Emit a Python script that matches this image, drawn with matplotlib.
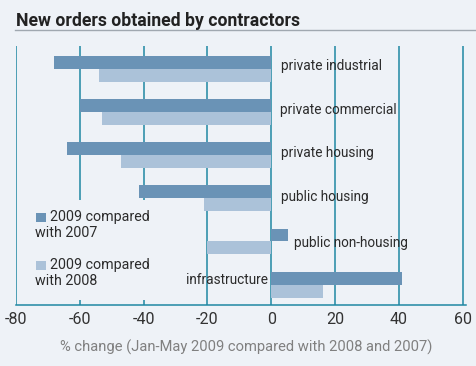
import matplotlib
matplotlib.use("Agg")
import matplotlib.pyplot as plt
from matplotlib.patches import Rectangle
import numpy as np

categories = ["private industrial", "private commercial", "private housing",
              "public housing", "public non-housing", "infrastructure"]
vs2007 = [-68, -60, -64, -41.5, 5.3, 41]
vs2008 = [-54, -53, -47, -21, -20.3, 16.3]
series_first = ["2009 compared", "2009 compared"]
series_second = ["with 2007", "with 2008"]
xticks = [-80, -60, -40, -20, 0, 20, 40, 60]
title = "New orders obtained by contractors"
xlabel = "% change (Jan-May 2009 compared with 2008 and 2007)"

bg = "#eef2f7"
dark = "#6a93b6"
light = "#abc2d9"
grid = "#1f88a3"
txt = "#2b2b2b"

plt.rcParams['font.family'] = ['Roboto', 'DejaVu Sans']

fig = plt.figure(figsize=(4.77, 3.66), dpi=100, facecolor=bg)
ax = fig.add_axes([16/477, (366-305)/366, 450/477, (305-46)/366])
ax.set_facecolor(bg)

def px(x):  # pixel x -> data x
    return (x - 16) / (450 / 141) - 80

def py(y):  # pixel y -> data y
    return (y - 68.7) / 43.2

y = np.arange(len(categories))
h = 0.3
ax.barh(y - h/2, vs2007, height=h, color=dark, zorder=3)
ax.barh(y + h/2, vs2008, height=h, color=light, zorder=3)

for x in xticks:
    ax.axvline(x, color=grid, lw=1.1, zorder=1)

ax.set_xlim(-80, 61)
ax.set_ylim(5.47, -0.525)
ax.set_yticks([])
ax.set_xticks(xticks)
ax.set_xticklabels([str(t) for t in xticks], fontsize=11.5, color="#333333")
ax.tick_params(axis='x', length=0, pad=5)
for s in ["top", "right", "left"]:
    ax.spines[s].set_visible(False)
ax.spines["bottom"].set_color(grid)
ax.spines["bottom"].set_linewidth(1.1)

# category labels
lab_style = dict(fontsize=9.8, color=txt, va="center", zorder=5)
lab_pos = [(281, 66, "left"), (280, 110, "left"), (281, 153, "left"),
           (281, 197, "left"), (294, 243, "left"), (268, 280, "right")]
for c, (lx, ly, ha) in zip(categories, lab_pos):
    ax.text(px(lx), py(ly), c, ha=ha, **lab_style)

# legend area
ax.add_patch(Rectangle((px(18), py(200)), px(150) - px(18), py(300) - py(200),
                       facecolor=bg, edgecolor="none", zorder=2))
sq_top = [213, 261]
for j, col in enumerate([dark, light]):
    t = sq_top[j]
    ax.add_patch(Rectangle((px(36), py(t)), px(46) - px(36), py(t + 9) - py(t),
                           facecolor=col, edgecolor="none", zorder=4))
    ax.text(px(50), py(t + 4.5), series_first[j], ha="left", va="center",
            fontsize=10.3, color=txt, zorder=5)
    ax.text(px(35.5), py(t + 20.5), series_second[j], ha="left", va="center",
            fontsize=10.3, color=txt, zorder=5)

fig.text(16/477, 1 - 21/366, title, fontsize=12.7, fontweight="bold", color="#222222",
         ha="left", va="center")
fig.add_artist(plt.Line2D([15/477, 475/477], [1 - 29.5/366, 1 - 29.5/366],
                          color="#a0a8b0", lw=1.0))
fig.text(246/477, 1 - 347/366, xlabel, fontsize=10.6, color="#808080", ha="center", va="center")

fig.savefig("out.png", dpi=100, facecolor=bg)
